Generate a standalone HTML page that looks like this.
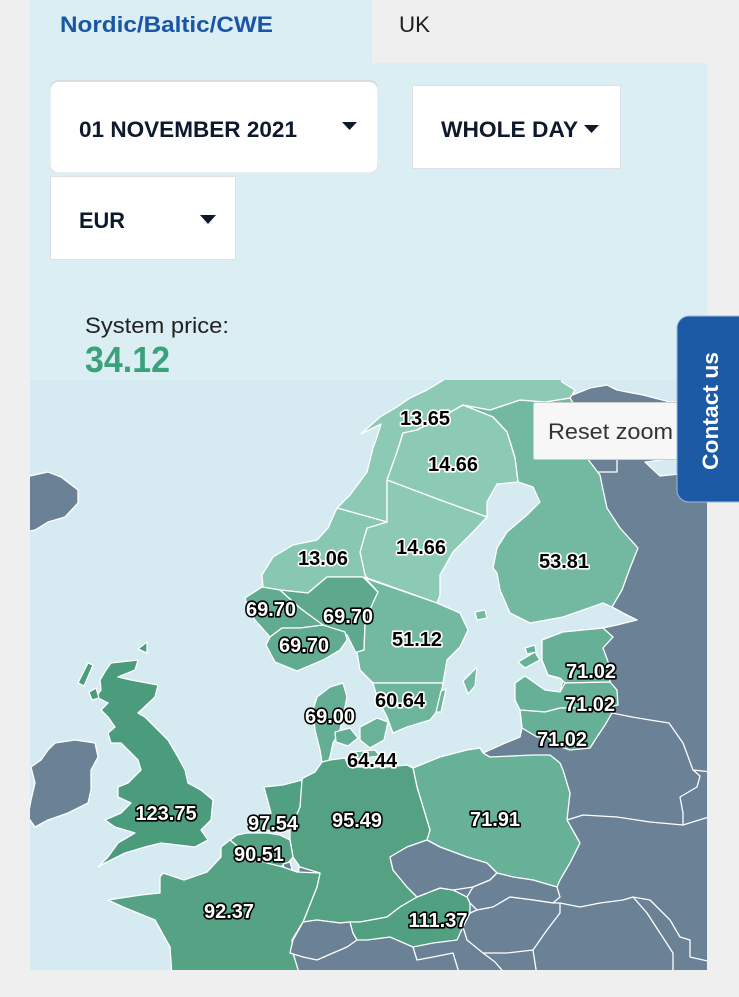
<!DOCTYPE html>
<html><head><meta charset="utf-8"><style>
html,body{margin:0;padding:0;background:#efefef;}
svg{display:block;font-family:"Liberation Sans",Arial,sans-serif;}
.lb{font-weight:bold;font-size:20px;text-anchor:middle;paint-order:stroke;stroke-linejoin:round;}
.w{fill:#fff;stroke:#000;stroke-width:3.2px;}
.k{fill:#000;stroke:#fff;stroke-width:3.2px;}
.land polygon{stroke:#fff;stroke-width:1.3;stroke-linejoin:round;}
.bl{fill:none;stroke:#fff;stroke-width:1.3;stroke-linejoin:round;}
</style></head><body>
<svg width="739" height="997" viewBox="0 0 739 997" xmlns="http://www.w3.org/2000/svg">
<defs><clipPath id="mc"><rect x="30" y="380" width="677" height="590"/></clipPath></defs>
<rect width="739" height="997" fill="#efefef"/>
<rect x="30" y="0" width="677" height="970" fill="#daeef4"/>
<rect x="372" y="0" width="335" height="63" fill="#efefef"/>
<text x="60" y="32" font-weight="bold" font-size="22" fill="#1a55a6" textLength="213" lengthAdjust="spacingAndGlyphs">Nordic/Baltic/CWE</text>
<text x="399" y="32" font-size="22" fill="#1d1d1d" textLength="31" lengthAdjust="spacingAndGlyphs">UK</text>

<rect x="50" y="80" width="328" height="93" rx="8" fill="#d8dcdf"/>
<rect x="50.5" y="82" width="327" height="90.5" rx="8" fill="#fff"/>
<text x="79" y="137" font-weight="bold" font-size="22" fill="#0e1a2b" textLength="218" lengthAdjust="spacingAndGlyphs">01 NOVEMBER 2021</text>
<polygon points="342,122 357,122 349.5,130" fill="#0e1a2b"/>

<rect x="412.5" y="85.5" width="208" height="83" fill="#fff" stroke="#dde1e4"/>
<text x="441" y="137" font-weight="bold" font-size="22" fill="#0e1a2b" textLength="137" lengthAdjust="spacingAndGlyphs">WHOLE DAY</text>
<polygon points="584,125 599,125 591.5,133" fill="#0e1a2b"/>

<rect x="50.5" y="176.5" width="185" height="83" fill="#fff" stroke="#dde1e4"/>
<text x="79" y="228" font-weight="bold" font-size="22" fill="#0e1a2b" textLength="46" lengthAdjust="spacingAndGlyphs">EUR</text>
<polygon points="200,215 216,215 208,224" fill="#0e1a2b"/>

<text x="85" y="333" font-size="22" fill="#222" textLength="144" lengthAdjust="spacingAndGlyphs">System price:</text>
<text x="85" y="372" font-weight="bold" font-size="36" fill="#3aa17a" textLength="85" lengthAdjust="spacingAndGlyphs">34.12</text>

<g clip-path="url(#mc)">
<rect x="30" y="380" width="677" height="590" fill="#d5ebf1"/>
<g class="land">
<!-- Iceland -->
<polygon fill="#6b8196" points="25,477 48,472 61,477 78,490 78,503 65,517 48,522 35,530 25,532"/>
<!-- Ireland -->
<polygon fill="#6b8196" points="55,743 75,740 95,743 98,757 91,770 91,790 88,803 68,813 48,820 35,827 28,817 31,800 35,783 31,767 41,760 48,750"/>
<!-- UK -->
<polygon fill="#4b9b7d" points="111,663 138,660 135,670 118,677 131,680 158,685 155,697 138,713 145,717 155,727 168,740 178,757 185,770 188,783 201,790 213,800 211,820 201,830 208,840 195,847 161,843 145,847 125,853 105,863 98,867 108,857 118,843 135,833 115,827 105,820 121,813 131,803 118,797 118,787 128,783 141,770 138,760 128,750 121,743 111,743 108,733 115,727 108,717 101,710 108,703 96,697 101,690 100,680 106,670"/>
<polygon fill="#4b9b7d" points="78,683 88,663 93,665 84,686"/>
<polygon fill="#4b9b7d" points="89,692 96,688 99,698 92,700"/>
<polygon fill="#4b9b7d" points="138,649 147,642 147,653"/>
<!-- grey mainland -->
<polygon fill="#6b8196" points="565,398 590,388 607,385 617,390 643,395 670,402 712,404 712,976 284,976 290,940 300,860 413,768 440,757 467,750 480,748 483,753 503,744 520,737 522,728 520,710 515,700 515,683 525,676 545,690 560,692 563,680 548,675 542,660 542,640 563,632 603,628 617,625 637,620 623,613 612,607 600,560 560,420"/>
<polygon fill="#d5ebf1" stroke="none" points="645,462 677,458 690,465 680,474 660,476"/>
<!-- Finland -->
<polygon fill="#73b8a0" points="463,405 490,410 520,400 545,402 570,398 583,418 587,458 600,475 602,485 607,508 620,528 638,548 630,568 622,590 612,607 603,603 563,617 530,623 510,613 500,590 497,573 493,568 497,548 507,532 527,515 540,502 533,487 518,482 515,458 507,432 493,417"/>
<polygon fill="#73b8a0" points="475,612 485,610 487,618 477,620"/>
<!-- NO4 -->
<polygon fill="#8dcab5" points="450,376 427,390 410,398 397,407 380,417 361,434 381,424 376,440 373,448 367,472 350,495 337,508 387,522 387,480 397,452 403,433 417,430 440,418 463,405 490,410 520,400 545,402 570,398 575,390 562,382 560,376"/>
<!-- SE1 -->
<polygon fill="#8dcab5" points="387,480 397,452 403,433 417,430 440,418 463,405 493,417 507,432 515,458 518,482 497,484 487,502 487,517 440,500"/>
<!-- SE2 -->
<polygon fill="#8dcab5" points="387,480 440,500 487,517 473,532 453,552 440,575 440,595 437,603 367,578 365,575 360,552 367,528 387,522"/>
<!-- NO3 -->
<polygon fill="#88c7b2" points="337,508 387,522 367,528 360,552 365,575 367,578 363,577 327,577 308,593 280,590 262,587 247,597 263,588 262,575 273,557 293,545 317,540 328,528"/>
<!-- NO5 -->
<polygon fill="#61ab91" points="245,598 262,587 280,590 300,608 323,625 300,628 282,628 270,637 255,620 248,608"/>
<!-- NO1 -->
<polygon fill="#5ea88e" points="280,590 308,593 327,577 363,577 378,592 372,605 365,625 364,650 356,653 347,635 323,625 300,608"/>
<!-- NO2 -->
<polygon fill="#61ab91" points="270,637 282,628 300,628 323,625 345,632 347,640 340,650 323,660 297,671 275,662 266,645"/>
<!-- SE3 -->
<polygon fill="#73b8a0" points="365,578 437,603 460,613 468,630 460,647 447,660 443,683 373,683 360,670 357,652 364,650 365,625 372,605 378,592"/>
<polygon fill="#73b8a0" points="463,681 477,667 475,686 468,694"/>
<!-- SE4 -->
<polygon fill="#6cb49a" points="373,683 443,683 438,710 430,720 407,727 393,733 387,717 377,697"/>
<polygon fill="#6cb49a" points="441,691 446,689 441,712 436,712"/>
<!-- DK1 -->
<polygon fill="#63ae94" points="313,710 317,697 330,687 343,683 347,697 343,717 340,730 333,743 330,757 328,762 322,762 320,750 315,730"/>
<polygon fill="#63ae94" points="335,732 350,728 358,738 348,746 336,742"/>
<!-- DK2 -->
<polygon fill="#69b298" points="360,727 377,718 388,722 384,740 370,748 360,740"/>
<polygon fill="#69b298" points="350,752 375,750 380,756 355,759"/>
<!-- Baltics -->
<polygon fill="#65b097" points="542,640 563,632 603,628 613,637 603,648 610,667 610,682 565,683 560,678 548,675 542,660"/>
<polygon fill="#65b097" points="518,662 535,652 540,660 525,668"/>
<polygon fill="#65b097" points="525,648 535,645 536,652 527,654"/>
<polygon fill="#65b097" points="515,683 525,676 545,690 560,692 565,683 610,682 617,690 618,705 603,708 560,708 545,712 520,710 515,700"/>
<polygon fill="#65b097" points="520,710 545,712 560,708 603,708 612,713 605,725 597,737 590,748 570,750 555,745 547,737 537,737 522,728"/>
<!-- Poland -->
<polygon fill="#66b198" points="413,768 440,757 467,750 480,748 483,753 490,757 533,755 550,755 560,763 563,770 570,793 567,820 580,843 570,863 560,880 557,887 533,880 513,877 497,873 487,863 467,857 440,847 427,840 430,830 417,787"/>
<!-- Germany -->
<polygon fill="#55a184" points="300,783 303,778 315,772 322,762 330,760 345,758 348,765 357,767 387,767 407,765 413,768 417,787 430,830 427,840 407,847 390,857 393,870 407,887 417,897 400,907 387,917 360,922 350,922 340,923 317,920 303,922 317,887 320,873 300,867 293,857 290,840 290,830 300,807"/>
<!-- Netherlands -->
<polygon fill="#52a083" points="264,787 283,785 302,780 300,807 290,830 280,833 267,830 253,830 247,827 254,820 271,813"/>
<!-- Belgium -->
<polygon fill="#55a184" points="230,840 237,835 247,833 267,833 280,835 290,840 293,857 288,863 280,867 267,863 250,857"/>
<polygon fill="#6b8196" points="283,864 290,862 294,877 286,878"/>
<!-- France -->
<polygon fill="#56a285" points="163,873 184,880 207,872 221,857 221,847 230,840 250,857 267,863 283,867 297,872 320,873 317,887 303,922 292,940 293,953 300,976 172,976 170,947 155,920 123,907 108,900 141,895 160,893 160,877"/>
<!-- Switzerland -->
<polygon fill="#6b8196" points="303,922 317,920 340,923 350,922 353,933 357,940 347,947 333,953 317,960 303,957 290,953 293,940"/>
<!-- Austria -->
<polygon fill="#50a081" points="350,922 360,922 387,917 400,907 417,897 440,888 453,890 467,897 470,903 470,913 463,927 457,940 433,943 413,947 390,937 367,940 357,940 353,933"/>
<!-- Czech -->
<polygon fill="#6b8196" points="390,857 407,847 427,840 440,847 467,857 487,863 497,873 490,880 473,887 453,890 440,888 417,897 407,887 393,870"/>
<!-- Slovakia -->
<polygon fill="#6b8196" points="497,873 513,877 533,880 557,887 560,897 553,903 533,900 510,897 493,907 477,910 470,903 467,897 473,887 490,880"/>
<!-- Hungary -->
<polygon fill="#6b8196" points="470,913 477,910 493,907 510,897 533,900 553,903 560,903 560,913 547,930 533,950 507,953 483,953 467,940 463,927"/>
</g>
<polyline class="bl" points="612,713 632,717 650,720 669,723 683,743 693,770 700,776 697,787 680,797 683,813 683,825"/>
<polyline class="bl" points="693,770 712,772"/>
<polyline class="bl" points="567,820 583,815 617,817 650,822 683,825 712,816"/>
<polyline class="bl" points="560,903 580,907 600,903 623,900 633,897 650,900 670,920 680,937 690,940 690,957 712,962"/>
<polyline class="bl" points="633,897 647,913 660,933 673,953 673,976"/>
<polyline class="bl" points="533,950 537,976"/>
<polyline class="bl" points="413,947 417,960 433,957 453,953 460,976"/>
<polyline class="bl" points="483,953 495,962 507,976"/>
<polyline class="bl" points="597,472 617,472 617,460"/>
</g>

<!-- labels -->
<g class="lb">
<text class="k" x="425" y="425">13.65</text>
<text class="k" x="453" y="471">14.66</text>
<text class="k" x="421" y="554">14.66</text>
<text class="k" x="323" y="565">13.06</text>
<text class="k" x="564" y="568">53.81</text>
<text class="w" x="271" y="616">69.70</text>
<text class="w" x="348" y="623">69.70</text>
<text class="w" x="304" y="652">69.70</text>
<text class="k" x="417" y="646">51.12</text>
<text class="w" x="591" y="678">71.02</text>
<text class="w" x="590" y="711">71.02</text>
<text class="k" x="400" y="707">60.64</text>
<text class="w" x="330" y="723">69.00</text>
<text class="w" x="562" y="746">71.02</text>
<text class="k" x="372" y="767">64.44</text>
<text class="w" x="166" y="820">123.75</text>
<text class="w" x="273" y="830">97.54</text>
<text class="w" x="357" y="827">95.49</text>
<text class="w" x="495" y="826">71.91</text>
<text class="w" x="259" y="861">90.51</text>
<text class="w" x="229" y="918">92.37</text>
<text class="w" x="438" y="927">111.37</text>
</g>

<!-- Reset zoom -->
<rect x="533.5" y="402.5" width="170" height="57" rx="2" fill="#f7f7f7" stroke="#cccccc"/>
<text x="548" y="439" font-size="22" fill="#333" textLength="125" lengthAdjust="spacingAndGlyphs">Reset zoom</text>

<!-- Contact us tab -->
<path d="M689,316 H745 V502 H689 A12,12 0 0 1 677,490 V328 A12,12 0 0 1 689,316 Z" fill="#1c5aa5" stroke="#9fb9d9" stroke-width="1"/>
<text transform="translate(718,470) rotate(-90)" font-weight="bold" font-size="22" fill="#fff" textLength="118" lengthAdjust="spacingAndGlyphs">Contact us</text>
</svg>
</body></html>
